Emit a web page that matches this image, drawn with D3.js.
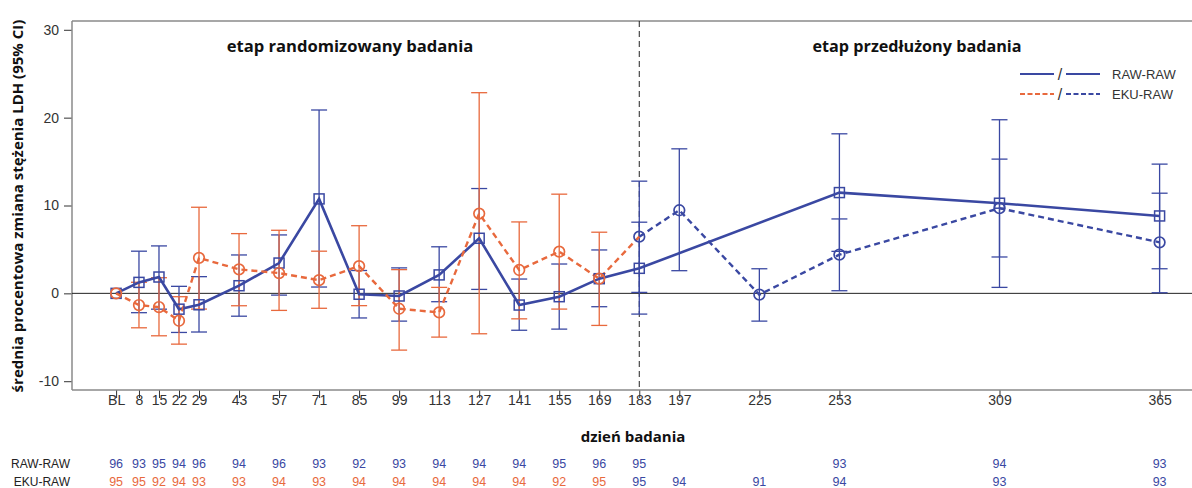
<!DOCTYPE html>
<html><head><meta charset="utf-8">
<script src="https://cdn.jsdelivr.net/npm/d3@7"></script>
<style>body{margin:0;background:#fff;}svg{display:block;}</style>
</head><body>
<svg id="c" width="1192" height="488"></svg>
<script>
// ---- data ----
const tickDays   = [0,8,15,22,29,43,57,71,85,99,113,127,141,155,169,183,197,225,253,309,365];
const tickLabels = ["BL","8","15","22","29","43","57","71","85","99","113","127","141","155","169","183","197","225","253","309","365"];
const yTicks = [-10,0,10,20,30];

// RAW-RAW (solid, squares)
const rawDays = [0,8,15,22,29,43,57,71,85,99,113,127,141,155,169,183,253,309,365];
const rawMean = [0,1.25,1.86,-1.8,-1.3,0.87,3.45,10.75,-0.1,-0.3,2.1,6.27,-1.33,-0.38,1.67,2.85,11.47,10.26,8.81];
const rawLo   = [null,-2.2,-1.8,-4.45,-4.4,-2.6,-0.2,0.72,-2.8,-3.16,-0.95,0.45,-4.2,-4.07,-1.52,-2.36,4.78,0.68,2.8];
const rawHi   = [null,4.8,5.4,0.8,1.9,4.37,6.65,20.87,2.6,2.9,5.3,11.93,1.63,3.34,4.94,8.1,18.16,19.76,14.71];

// EKU-RAW (dashed, circles)
const ekuDays = [0,8,15,22,29,43,57,71,85,99,113,127,141,155,169,183,197,225,253,309,365];
const ekuMean = [0,-1.33,-1.56,-3.12,4.03,2.73,2.31,1.5,3.1,-1.75,-2.17,9.08,2.66,4.75,1.67,6.45,9.46,-0.15,4.4,9.69,5.81];
const ekuLo   = [null,-3.92,-4.83,-5.78,-1.79,-1.41,-1.94,-1.7,-1.4,-6.46,-4.98,-4.6,-2.9,-1.79,-3.65,0.11,2.58,-3.16,0.3,4.14,0.07];
const ekuHi   = [null,1.26,1.78,-0.38,9.8,6.8,7.18,4.8,7.7,2.7,0.68,22.84,8.13,11.29,6.96,12.77,16.45,2.8,8.47,15.28,11.4];

// counts table
const rawNDays = [0,8,15,22,29,43,57,71,85,99,113,127,141,155,169,183,253,309,365];
const rawN     = [96,93,95,94,96,94,96,93,92,93,94,94,94,95,96,95,93,94,93];
const ekuNDays = [0,8,15,22,29,43,57,71,85,99,113,127,141,155,169,183,197,225,253,309,365];
const ekuN     = [95,95,92,94,93,93,94,93,94,94,94,94,94,92,95,95,94,91,94,93,93];

const phaseSplit = 183;
const BLUE = "#3a48a2", ORANGE = "#e8693d";

// ---- layout ----
const svg = d3.select("#c");
const L = 72, R = 1192, T = 21, B = 390;
const x = d3.scaleLinear().domain([0,365]).range([116.1,1159.6]);
const y = d3.scaleLinear().domain([-11,31]).range([B,T]);

// frame
svg.append("line").attr("x1",L).attr("x2",R).attr("y1",T).attr("y2",T).attr("stroke","#8a8a8a").attr("stroke-width",1.5);

// x axis
const xAxis = svg.append("g").attr("transform",`translate(0,${B})`)
  .call(d3.axisBottom(x).tickValues(tickDays).tickFormat((d,i)=>tickLabels[i]).tickSize(8).tickSizeOuter(0));
xAxis.select(".domain").remove();
xAxis.append("line").attr("x1",L).attr("x2",R).attr("stroke","#8a8a8a").attr("stroke-width",1.5);
xAxis.selectAll(".tick line").attr("stroke","#333").attr("stroke-width",1);
xAxis.selectAll(".tick text").attr("fill","#333").attr("font-family","Liberation Sans, Arial, sans-serif").attr("font-size",14).attr("dy","0.3em").attr("y",11);

// y axis
const yAxis = svg.append("g").attr("transform",`translate(${L},0)`)
  .call(d3.axisLeft(y).tickValues(yTicks).tickFormat(d=>String(d)).tickSize(8).tickSizeOuter(0));
yAxis.select(".domain").remove();
yAxis.append("line").attr("y1",T).attr("y2",B).attr("stroke","#8a8a8a").attr("stroke-width",1.5);
yAxis.selectAll(".tick line").attr("stroke","#333");
yAxis.selectAll(".tick text").attr("fill","#333").attr("font-family","Liberation Sans, Arial, sans-serif").attr("font-size",14).attr("x",-13);

// zero line
svg.append("line").attr("x1",L).attr("x2",R).attr("y1",y(0)).attr("y2",y(0)).attr("stroke","#222").attr("stroke-width",1);
// phase divider
svg.append("line").attr("x1",x(phaseSplit)).attr("x2",x(phaseSplit)).attr("y1",T).attr("y2",B)
  .attr("stroke","#222").attr("stroke-width",1).attr("stroke-dasharray","6,4");

// phase titles
const titleFont = "Open Sans, Lato, sans-serif";
svg.append("text").attr("x",350).attr("y",52).attr("text-anchor","middle").attr("font-family",titleFont)
  .attr("font-weight","bold").attr("font-size",16.6).attr("fill","#111").text("etap randomizowany badania");
svg.append("text").attr("x",917).attr("y",52).attr("text-anchor","middle").attr("font-family",titleFont)
  .attr("font-weight","bold").attr("font-size",16.2).attr("fill","#111").text("etap przedłużony badania");

// axis titles
svg.append("text").attr("transform","translate(23,206) rotate(-90)").attr("text-anchor","middle")
  .attr("font-family",titleFont).attr("font-weight","bold").attr("font-size",15).attr("fill","#111")
  .text("średnia procentowa zmiana stężenia LDH (95% CI)");
svg.append("text").attr("x",633).attr("y",442).attr("text-anchor","middle")
  .attr("font-family",titleFont).attr("font-weight","bold").attr("font-size",15).attr("fill","#111")
  .text("dzień badania");

// helpers
const raw = rawDays.map((d,i)=>({d,m:rawMean[i],lo:rawLo[i],hi:rawHi[i]}));
const eku = ekuDays.map((d,i)=>({d,m:ekuMean[i],lo:ekuLo[i],hi:ekuHi[i]}));
const line = d3.line().x(p=>x(p.d)).y(p=>y(p.m));

function errorBars(data,color){
  const g = svg.append("g").attr("stroke",color).attr("stroke-width",1.3).attr("fill","none");
  data.filter(p=>p.lo!=null).forEach(p=>{
    g.append("line").attr("x1",x(p.d)).attr("x2",x(p.d)).attr("y1",y(p.lo)).attr("y2",y(p.hi));
    [p.lo,p.hi].forEach(v=>g.append("line").attr("x1",x(p.d)-8).attr("x2",x(p.d)+8).attr("y1",y(v)).attr("y2",y(v)));
  });
}
function squares(data,color){
  svg.append("g").selectAll("rect").data(data).join("rect")
    .attr("x",p=>x(p.d)-5).attr("y",p=>y(p.m)-5).attr("width",10).attr("height",10)
    .attr("fill","none").attr("stroke",color).attr("stroke-width",1.5);
}
function circles(data,color){
  svg.append("g").selectAll("circle").data(data).join("circle")
    .attr("cx",p=>x(p.d)).attr("cy",p=>y(p.m)).attr("r",5.3)
    .attr("fill","none").attr("stroke",color).attr("stroke-width",1.7);
}

const ekuRand = eku.filter(p=>p.d<phaseSplit);
const ekuExt  = eku.filter(p=>p.d>=phaseSplit);
const ekuRandLine = eku.filter(p=>p.d<=phaseSplit);

// error bars
errorBars(raw,BLUE);
errorBars(ekuExt,BLUE);
errorBars(ekuRand,ORANGE);

// lines
svg.append("path").attr("d",line(raw)).attr("fill","none").attr("stroke",BLUE).attr("stroke-width",2.6);
svg.append("path").attr("d",line(ekuExt)).attr("fill","none").attr("stroke",BLUE).attr("stroke-width",2.4).attr("stroke-dasharray","6,4");
svg.append("path").attr("d",line(ekuRandLine)).attr("fill","none").attr("stroke",ORANGE).attr("stroke-width",2.4).attr("stroke-dasharray","6,4");

// markers
squares(raw,BLUE);
circles(ekuExt,BLUE);
circles(ekuRand,ORANGE);

// legend
const lg = svg.append("g").attr("font-family","Liberation Sans, Arial, sans-serif").attr("font-size",13).attr("fill","#333");
lg.append("line").attr("x1",1020).attr("x2",1054).attr("y1",74).attr("y2",74).attr("stroke",BLUE).attr("stroke-width",2);
lg.append("line").attr("x1",1066).attr("x2",1100).attr("y1",74).attr("y2",74).attr("stroke",BLUE).attr("stroke-width",2);
lg.append("line").attr("x1",1020).attr("x2",1054).attr("y1",94).attr("y2",94).attr("stroke",ORANGE).attr("stroke-width",2).attr("stroke-dasharray","5,2.5");
lg.append("line").attr("x1",1066).attr("x2",1100).attr("y1",94).attr("y2",94).attr("stroke",BLUE).attr("stroke-width",2).attr("stroke-dasharray","5,2.5");
lg.append("text").attr("x",1060).attr("y",80).attr("text-anchor","middle").attr("font-size",16).text("/");
lg.append("text").attr("x",1060).attr("y",100).attr("text-anchor","middle").attr("font-size",16).text("/");
lg.append("text").attr("x",1112).attr("y",79).text("RAW-RAW");
lg.append("text").attr("x",1112).attr("y",99).text("EKU-RAW");

// counts table
const tf = "Liberation Sans, Arial, sans-serif";
svg.append("text").attr("x",70).attr("y",468).attr("text-anchor","end").attr("font-family",tf).attr("font-size",12).attr("fill","#222").text("RAW-RAW");
svg.append("text").attr("x",70).attr("y",486).attr("text-anchor","end").attr("font-family",tf).attr("font-size",12).attr("fill","#222").text("EKU-RAW");
svg.append("g").selectAll("text").data(rawNDays).join("text")
  .attr("x",d=>x(d)).attr("y",468).attr("text-anchor","middle").attr("font-family",tf).attr("font-size",12.5)
  .attr("fill",BLUE).text((d,i)=>rawN[i]);
svg.append("g").selectAll("text").data(ekuNDays).join("text")
  .attr("x",d=>x(d)).attr("y",486).attr("text-anchor","middle").attr("font-family",tf).attr("font-size",12.5)
  .attr("fill",d=>d<phaseSplit?ORANGE:BLUE).text((d,i)=>ekuN[i]);
</script>
</body></html>
